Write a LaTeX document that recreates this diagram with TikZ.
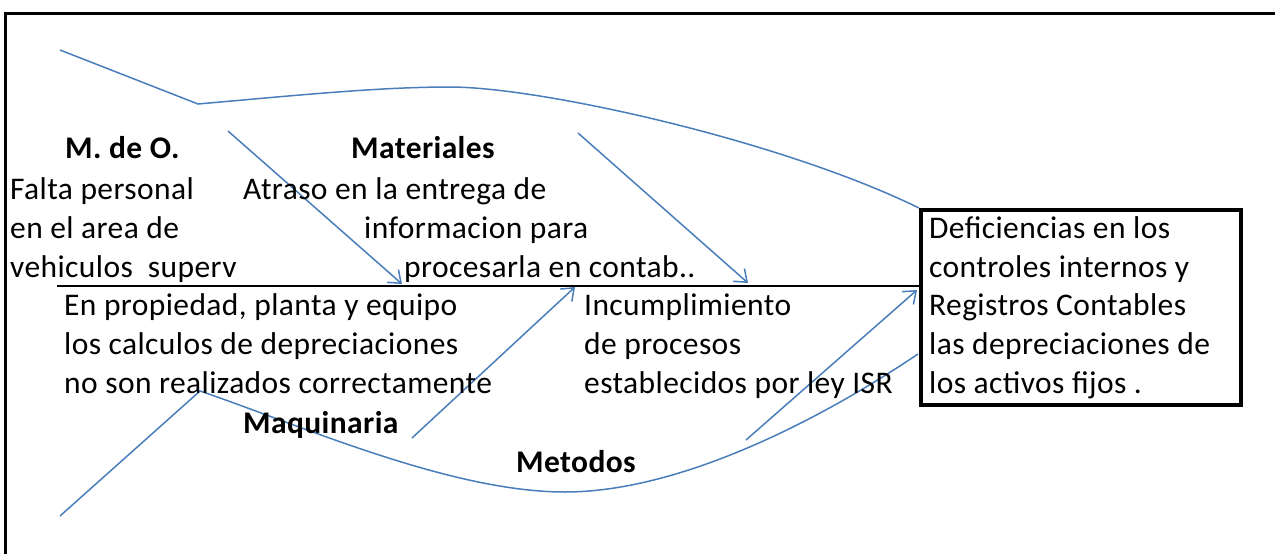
\documentclass[tikz,border=0pt]{standalone}
\usepackage{fontspec}
\setmainfont{Carlito}[LetterSpace=1.3]
\usetikzlibrary{arrows.meta}
\definecolor{bone}{RGB}{74,126,187}
\tikzset{
  txt/.style={anchor=base west, inner sep=0pt, font=\fontsize{31.5}{39}\selectfont},
  btxt/.style={txt, font=\fontsize{31.5}{39}\selectfont\bfseries},
  boneline/.style={draw=bone, line width=1.5pt},
  arr/.style={boneline, -{Straight Barb[length=11pt,width=17pt,line width=1.5pt]}},
}
\begin{document}
\begin{tikzpicture}[x=1pt,y=-1pt]
\useasboundingbox (0,0) rectangle (1275,554);
% frame (top and left only visible)
\draw[line width=3pt] (5,556) -- (5,13) -- (1277,13);
% effect box
\node (box) [draw, line width=3.5pt, minimum width=320pt, minimum height=195pt, anchor=north west, inner sep=0pt] at (919,208) {};
% spine
\coordinate (spineStart) at (57,286);
\draw[line width=1.8pt] (spineStart) -- (box.west |- spineStart);
% upper bone
\coordinate (u0) at (60,50);
\coordinate (u1) at (198,104);
\coordinate (u2) at (450,87);
\draw[boneline] (u0) -- (u1) .. controls (300,95) and (380,87) .. (u2)
  .. controls (540,87) and (780,140) .. (box.north west);
% lower bone
\coordinate (l0) at (60,516);
\coordinate (l1) at (200,391);
\coordinate (l2) at (565,492);
\draw[boneline] (l0) -- (l1) .. controls (300,425) and (450,492) .. (l2)
  .. controls (680,492) and (820,420) .. (918,354);
% arrows
\coordinate (aT) at (228,131); \coordinate (aH) at (402,284);
\coordinate (bT) at (578,133); \coordinate (bH) at (748,283);
\coordinate (cT) at (412,438); \coordinate (cH) at (575,287);
\coordinate (dT) at (746,440); \coordinate (dH) at (917,290);
\draw[arr] (aT) -- (aH);
\draw[arr] (bT) -- (bH);
\draw[arr] (cT) -- (cH);
\draw[arr] (dT) -- (dH);
% labels
\node[btxt] (mdo) at (65,158) {M. de O.};
\node[btxt] (mat) at (351,158) {Materiales};
\node[btxt] (maq) at (243,433) {Maquinaria};
\node[btxt] (met) at (516,472) {Metodos};
% texts
\node[txt] (t1) at (10,199) {Falta personal};
\node[txt] (t2) at (10,238) {en el area de};
\node[txt] (t3) at (10,277) {vehiculos\ \ superv};
\node[txt] (t4) at (243,199) {Atraso en la entrega de};
\node[txt] (t5) at (364,238) {informacion para};
\node[txt] (t6) at (404,277) {procesarla en contab..};
\node[txt] (t7) at (64,315) {En propiedad, planta y equipo};
\node[txt] (t8) at (64,354) {los calculos de depreciaciones};
\node[txt] (t9) at (64,393) {no son realizados correctamente};
\node[txt] (t10) at (584,315) {Incumplimiento};
\node[txt] (t11) at (584,354) {de procesos};
\node[txt] (t12) at (584,393) {establecidos por ley ISR};
\node[txt] (b1) at (929,238) {Deficiencias en los};
\node[txt] (b2) at (929,277) {controles internos y};
\node[txt] (b3) at (929,315) {Registros Contables};
\node[txt] (b4) at (929,354) {las depreciaciones de};
\node[txt] (b5) at (929,393) {los activos fijos .};
\end{tikzpicture}
\end{document}
